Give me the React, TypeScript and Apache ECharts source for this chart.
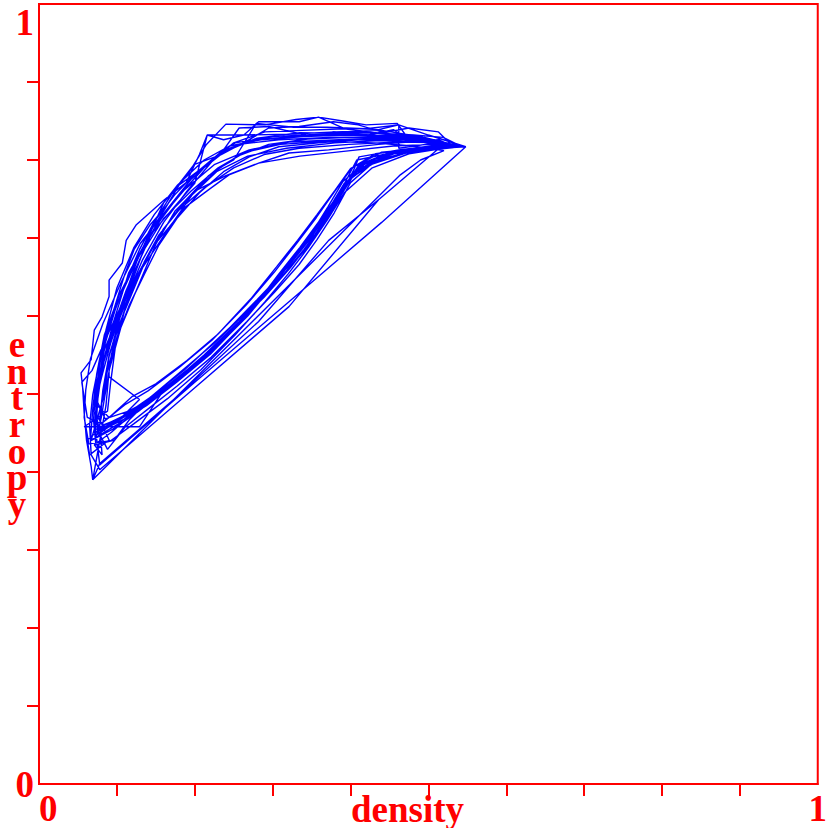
import React, { useEffect, useRef } from "react";
import * as echarts from "echarts";

// Trajectory in the (density, entropy) plane
const density: number[] = [
  0.071,0.103,0.133,0.174,0.218,0.263,0.299,0.327,0.353,0.376,0.398,0.436,0.488,0.545,0.500,0.449,0.385,0.321,0.270,0.225,0.187,0.154,0.129,0.103,0.084,0.074,0.069,
  0.066,0.095,0.128,0.168,0.210,0.255,0.292,0.322,0.349,0.372,0.392,0.425,0.470,0.530,0.490,0.440,0.380,0.320,0.262,0.216,0.200,0.172,0.140,0.118,0.090,0.068,0.055,0.062,
  0.080,0.110,0.140,0.180,0.222,0.266,0.302,0.330,0.356,0.380,0.402,0.440,0.495,0.540,0.505,0.455,0.400,0.335,0.282,0.240,0.200,0.167,0.133,0.107,0.091,0.085,0.080,
  0.075,0.100,0.130,0.170,0.214,0.259,0.296,0.325,0.350,0.374,0.395,0.430,0.480,0.535,0.470,0.460,0.420,0.390,0.359,0.330,0.290,0.240,0.215,0.190,0.160,0.140,0.115,0.095,0.082,0.075,
  0.085,0.115,0.145,0.185,0.226,0.270,0.306,0.333,0.358,0.382,0.405,0.445,0.500,0.548,0.510,0.462,0.462,0.420,0.370,0.327,0.279,0.250,0.232,0.205,0.175,0.150,0.128,0.105,0.090,0.086,
  0.069,0.464,0.490,0.520,0.480,0.430,0.370,0.310,0.265,0.230,0.195,0.160,0.135,0.112,0.095,0.083,0.076,0.072,
  0.078,0.200,0.330,0.440,0.548,0.505,0.450,0.395,0.340,0.285,0.245,0.212,0.180,0.150,0.125,0.100,0.085,0.077,0.074,
  0.078,0.108,0.138,0.178,0.220,0.262,0.297,0.324,0.350,0.371,0.390,0.420,0.468,0.520,0.470,0.420,0.360,0.300,0.252,0.212,0.178,0.148,0.122,0.100,0.086,0.079,0.072,
  0.090,0.120,0.150,0.190,0.230,0.272,0.305,0.332,0.357,0.380,0.400,0.432,0.478,0.528,0.488,0.438,0.380,0.318,0.268,0.228,0.193,0.160,0.135,0.112,0.098,0.092,0.088,
  0.058,0.129,0.160,0.195,0.235,0.276,0.308,0.335,0.360,0.384,0.406,0.448,0.505,0.546,0.500,0.445,0.390,0.335,0.280,0.232,0.195,0.163,0.130,0.105,0.082,0.066,0.060,0.058,
  0.064,0.092,0.122,0.165,0.208,0.252,0.290,0.320,0.346,0.370,0.392,0.428,0.475,0.538,0.495,0.445,0.392,0.338,0.290,0.250,0.222,0.190,0.160,0.133,0.110,0.092,0.080,0.070,
  0.082,0.112,0.142,0.182,0.224,0.268,0.303,0.330,0.355,0.378,0.400,0.438,0.490,0.542,0.502,0.452,0.400,0.345,0.295,0.255,0.218,0.185,0.152,0.125,0.104,0.090,0.084,
  0.067,0.101,0.135,0.180,0.225,0.270,0.308,0.340,0.362,0.385,0.404,0.411,0.462,0.519,0.548,0.500,0.462,0.436,0.391,0.359,0.334,0.282,0.263,0.237,0.216,0.206,0.189,0.161,0.125,0.112,0.107,0.090,0.090,0.081,0.071,0.067,0.054,0.056,0.058,0.061,0.067,0.069,
  0.078,0.180,0.282,0.372,0.436,0.522,0.513,0.436,0.372,0.321,0.282,0.244,0.218,0.187,0.167,0.148,0.133,0.119,0.107,0.097,0.090,0.090,0.129,0.103,0.078,
  0.110,0.142,0.187,0.231,0.276,0.314,0.347,0.372,0.395,0.408,0.443,0.500,0.539,0.488,0.436,0.372,0.308,0.257,0.225,0.199,0.174,0.148,0.129,0.110,0.093,0.080,0.073,0.070,0.073,
  0.097,0.116,0.148,0.193,0.238,0.280,0.319,0.349,0.375,0.392,0.417,0.462,0.526,0.475,0.455,0.423,0.378,0.347,0.295,0.257,0.237,0.206,0.180,0.161,0.142,0.126,0.113,0.097,0.084,0.075,0.073,0.075,
  0.088,0.110,0.139,0.177,0.221,0.267,0.303,0.334,0.357,0.379,0.400,0.426,0.475,0.533,0.513,0.475,0.443,0.410,0.378,0.334,0.295,0.270,0.234,0.199,0.174,0.154,0.142,0.122,0.110,0.100,0.088,0.078,0.069,0.065,0.067,
  0.078,0.193,0.321,0.436,0.522,0.462,0.398,0.334,0.289,0.250,0.212,0.180,0.154,0.135,0.120,0.103,0.090,0.082,0.078,0.090,
  0.065,0.062,0.084,0.129,0.167,0.212,0.257,0.295,0.329,0.354,0.376,0.398,0.413,0.455,0.513,0.548,0.506,0.468,0.410,0.359,0.308,0.270,0.237,0.206,0.177,0.154,0.135,0.116,0.099,0.088,0.081,0.078,0.081,
  0.071,0.093,0.126,0.161,0.206,0.250,0.289,0.323,0.350,0.372,0.394,0.411,0.449,0.506,0.541,0.519,0.481,0.423,0.365,0.314,0.276,0.244,0.212,0.187,0.164,0.142,0.125,0.110,0.094,0.081,0.074,0.071,
];

const entropy: number[] = [
  0.454,0.469,0.486,0.518,0.553,0.598,0.640,0.675,0.708,0.742,0.775,0.800,0.813,0.817,0.826,0.828,0.826,0.823,0.813,0.794,0.762,0.723,0.678,0.627,0.576,0.525,0.480,
  0.440,0.455,0.478,0.510,0.546,0.590,0.633,0.668,0.702,0.737,0.770,0.795,0.810,0.818,0.830,0.838,0.836,0.833,0.832,0.832,0.770,0.738,0.700,0.640,0.580,0.530,0.515,0.470,
  0.462,0.486,0.504,0.534,0.569,0.614,0.656,0.692,0.726,0.760,0.790,0.810,0.815,0.818,0.820,0.818,0.812,0.805,0.796,0.780,0.760,0.713,0.662,0.599,0.535,0.500,0.470,
  0.448,0.465,0.483,0.515,0.550,0.594,0.637,0.671,0.704,0.739,0.772,0.798,0.812,0.818,0.833,0.847,0.845,0.850,0.855,0.852,0.845,0.846,0.820,0.780,0.745,0.700,0.655,0.590,0.540,0.490,
  0.468,0.478,0.494,0.526,0.560,0.606,0.648,0.684,0.718,0.752,0.783,0.806,0.816,0.817,0.822,0.815,0.845,0.840,0.842,0.842,0.847,0.800,0.790,0.765,0.735,0.692,0.640,0.585,0.530,0.485,
  0.390,0.781,0.800,0.812,0.818,0.822,0.824,0.820,0.810,0.790,0.760,0.725,0.685,0.633,0.585,0.540,0.500,0.460,
  0.409,0.515,0.626,0.720,0.817,0.824,0.830,0.832,0.830,0.826,0.818,0.790,0.755,0.715,0.670,0.615,0.565,0.515,0.470,
  0.452,0.467,0.485,0.516,0.551,0.595,0.637,0.672,0.706,0.740,0.772,0.798,0.812,0.820,0.832,0.836,0.833,0.830,0.822,0.800,0.768,0.730,0.688,0.636,0.582,0.530,0.488,
  0.470,0.497,0.513,0.543,0.577,0.622,0.663,0.697,0.730,0.761,0.789,0.808,0.814,0.819,0.823,0.825,0.822,0.815,0.805,0.785,0.752,0.712,0.668,0.615,0.560,0.515,0.478,
  0.458,0.458,0.505,0.533,0.568,0.612,0.654,0.688,0.722,0.755,0.786,0.807,0.816,0.817,0.827,0.831,0.834,0.835,0.828,0.808,0.775,0.735,0.693,0.642,0.590,0.545,0.505,0.470,
  0.436,0.440,0.462,0.494,0.531,0.576,0.618,0.654,0.688,0.723,0.758,0.790,0.808,0.818,0.829,0.833,0.840,0.838,0.836,0.822,0.798,0.760,0.720,0.672,0.618,0.565,0.520,0.478,
  0.460,0.472,0.490,0.520,0.556,0.600,0.642,0.677,0.711,0.745,0.777,0.801,0.814,0.818,0.824,0.828,0.829,0.827,0.820,0.805,0.780,0.745,0.700,0.650,0.598,0.548,0.500,
  0.441,0.461,0.489,0.527,0.565,0.608,0.646,0.685,0.713,0.749,0.787,0.804,0.813,0.820,0.817,0.832,0.845,0.839,0.841,0.855,0.849,0.849,0.832,0.826,0.832,0.807,0.771,0.749,0.717,0.697,0.668,0.646,0.625,0.599,0.582,0.544,0.527,0.509,0.476,0.441,0.407,0.390,
  0.411,0.499,0.593,0.697,0.749,0.822,0.826,0.820,0.813,0.809,0.796,0.781,0.762,0.739,0.714,0.691,0.663,0.634,0.599,0.570,0.535,0.522,0.493,0.467,0.454,
  0.473,0.495,0.531,0.572,0.614,0.653,0.691,0.730,0.775,0.800,0.807,0.813,0.817,0.829,0.830,0.829,0.826,0.820,0.803,0.781,0.755,0.721,0.685,0.640,0.595,0.550,0.505,0.467,0.435,
  0.441,0.467,0.499,0.537,0.578,0.621,0.662,0.700,0.739,0.768,0.794,0.810,0.817,0.826,0.839,0.832,0.836,0.831,0.843,0.841,0.813,0.787,0.768,0.736,0.707,0.671,0.634,0.588,0.557,0.512,0.480,0.454,
  0.429,0.457,0.480,0.510,0.547,0.593,0.631,0.666,0.698,0.732,0.771,0.794,0.810,0.816,0.836,0.841,0.835,0.845,0.849,0.843,0.841,0.826,0.807,0.794,0.762,0.730,0.716,0.685,0.653,0.621,0.582,0.544,0.499,0.460,0.422,
  0.403,0.502,0.612,0.749,0.822,0.823,0.820,0.815,0.807,0.790,0.764,0.736,0.704,0.669,0.631,0.589,0.550,0.505,0.467,0.441,
  0.422,0.441,0.460,0.482,0.511,0.550,0.593,0.631,0.670,0.704,0.736,0.771,0.794,0.810,0.815,0.817,0.822,0.826,0.826,0.822,0.817,0.804,0.785,0.758,0.725,0.691,0.653,0.614,0.570,0.531,0.493,0.460,0.422,
  0.435,0.451,0.480,0.505,0.541,0.585,0.624,0.662,0.697,0.733,0.768,0.794,0.809,0.816,0.818,0.829,0.832,0.835,0.832,0.829,0.826,0.815,0.790,0.762,0.736,0.700,0.662,0.621,0.576,0.534,0.493,0.454,
];

const tickValues: number[] = [0.1, 0.2, 0.3, 0.4, 0.5, 0.6, 0.7, 0.8, 0.9];
const labelValues: number[] = [0, 1];
const xTitle = "density";
const yTitle = "entropy";

const RED = "#ff0000";
const BLUE = "#0000ff";
const FONT = "'Liberation Serif', 'Times New Roman', serif";

export default function App() {
  const ref = useRef<HTMLDivElement>(null);

  useEffect(() => {
    if (!ref.current) return;
    const chart = echarts.init(ref.current, undefined, { renderer: "svg" });
    const n = Math.min(density.length, entropy.length);
    const points = density.slice(0, n).map((d, i) => [d, entropy[i]]);
    const labelStyle = {
      color: RED,
      fontFamily: FONT,
      fontWeight: "bold" as const,
      fontSize: 37,
    };
    chart.setOption({
      animation: false,
      backgroundColor: "#ffffff",
      grid: {
        left: 39,
        top: 4,
        width: 780,
        height: 780,
        show: true,
        borderColor: RED,
        borderWidth: 2,
        backgroundColor: "transparent",
      },
      xAxis: {
        type: "value",
        min: 0,
        max: 1,
        interval: 0.1,
        splitLine: { show: false },
        axisLine: { show: true, lineStyle: { color: RED, width: 2 } },
        axisTick: {
          show: true,
          length: 12,
          customValues: tickValues,
          lineStyle: { color: RED, width: 2 },
        },
        axisLabel: {
          ...labelStyle,
          margin: 6,
          customValues: labelValues,
          alignMinLabel: "left",
          alignMaxLabel: "center",
          formatter: (v: number) => String(v),
        },
      },
      yAxis: {
        type: "value",
        min: 0,
        max: 1,
        interval: 0.1,
        splitLine: { show: false },
        axisLine: { show: true, lineStyle: { color: RED, width: 2 } },
        axisTick: {
          show: true,
          length: 12,
          customValues: tickValues,
          lineStyle: { color: RED, width: 2 },
        },
        axisLabel: {
          ...labelStyle,
          margin: 5,
          customValues: labelValues,
          verticalAlignMaxLabel: "top",
          verticalAlignMinLabel: "middle",
          formatter: (v: number) => String(v),
        },
      },
      graphic: [
        {
          type: "text",
          x: 351,
          y: 809,
          silent: true,
          style: {
            text: xTitle,
            fill: RED,
            font: `bold 37px ${FONT}`,
            align: "left",
            verticalAlign: "middle",
          },
        },
        {
          type: "text",
          x: 17,
          y: 331,
          silent: true,
          style: {
            text: yTitle.split("").join("\n"),
            fill: RED,
            font: `bold 37px ${FONT}`,
            lineHeight: 26.7,
            align: "center",
            verticalAlign: "top",
          },
        },
      ],
      series: [
        {
          type: "line",
          data: points,
          showSymbol: false,
          symbol: "none",
          lineStyle: { color: BLUE, width: 1.4 },
          silent: true,
          z: 1,
        },
      ],
    });
    return () => chart.dispose();
  }, []);

  return (
    <div
      ref={ref}
      style={{ position: "absolute", left: 0, top: 0, width: 830, height: 828 }}
    />
  );
}
